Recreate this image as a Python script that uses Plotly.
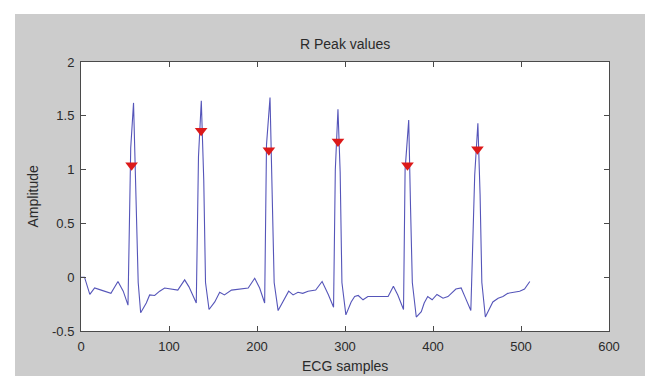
import plotly.graph_objects as go

# ECG trace vertices (sample index, amplitude)
ecg_x = [0, 4, 10, 15.5, 23, 34, 42, 48, 53.4,
         56.5, 59.7, 62.5, 65, 67.8,
         74.2, 78, 83.7, 89.4, 95, 110, 117.8, 122.7, 131,
         133.5, 136.7, 139.5, 141.5, 145.5,
         152, 157.6, 163, 171, 190, 197.4, 203, 208.7,
         210.8, 214.8, 217.2, 219.5, 224,
         229.5, 236, 241, 246.6, 252, 258, 266.7, 274, 281, 287,
         289, 292, 294.5, 296.5, 301,
         307, 311, 315, 320.5, 326, 349, 355, 360, 366.5,
         368.3, 372.4, 374.5, 376.5, 381,
         386.7, 390, 394, 399, 404.5, 411.4, 417, 426, 432, 436.7, 443,
         447.4, 451, 453.5, 455.5, 459.5,
         463.5, 468, 474, 479.5, 485, 498.5, 504, 510]
ecg_y = [0.0, 0.0, -0.16, -0.10, -0.12, -0.15, -0.04, -0.13, -0.26,
         1.20, 1.62, 0.72, -0.05, -0.33,
         -0.24, -0.165, -0.17, -0.13, -0.10, -0.12, -0.025, -0.09, -0.24,
         1.12, 1.64, 0.90, -0.05, -0.30,
         -0.23, -0.14, -0.165, -0.12, -0.10, -0.01, -0.10, -0.24,
         1.23, 1.67, 0.74, -0.05, -0.31,
         -0.23, -0.13, -0.165, -0.14, -0.15, -0.13, -0.12, -0.04, -0.16, -0.28,
         1.00, 1.56, 0.98, -0.05, -0.35,
         -0.23, -0.18, -0.17, -0.21, -0.18, -0.18, -0.085, -0.165, -0.30,
         1.00, 1.46, 0.64, -0.05, -0.37,
         -0.32, -0.24, -0.18, -0.21, -0.16, -0.195, -0.18, -0.11, -0.10, -0.19, -0.31,
         0.95, 1.43, 0.77, -0.05, -0.37,
         -0.30, -0.23, -0.195, -0.18, -0.15, -0.13, -0.11, -0.04]

# R peak markers
peak_x = [57.5, 136.5, 213.5, 292, 371, 450.5]
peak_y = [1.04, 1.36, 1.18, 1.26, 1.04, 1.19]

x_ticks = [0, 100, 200, 300, 400, 500, 600]
y_ticks = [-0.5, 0, 0.5, 1, 1.5, 2]
y_tick_text = ["-0.5", "0", "0.5", "1", "1.5", "2"]

font_family = "Liberation Sans, Arial, sans-serif"
txt = "#2a2a2a"
axis_col = "#4a4a4a"

fig = go.Figure()
fig.add_trace(go.Scatter(x=ecg_x, y=ecg_y, mode="lines",
                         line=dict(color="rgb(85,85,185)", width=1.1),
                         hoverinfo="skip", showlegend=False))
fig.add_trace(go.Scatter(x=peak_x, y=peak_y, mode="markers",
                         marker=dict(symbol="triangle-down", size=11,
                                     color="rgb(220,25,25)",
                                     line=dict(color="rgb(220,25,25)", width=0)),
                         showlegend=False))

axis_common = dict(showline=True, linecolor=axis_col, linewidth=1, mirror="ticks",
                   ticks="inside", ticklen=5, tickcolor=axis_col, showgrid=False,
                   zeroline=False, tickfont=dict(family=font_family, size=13, color=txt))

fig.update_xaxes(range=[0, 600], tickvals=x_ticks, ticklabelstandoff=3, **axis_common)
fig.update_yaxes(range=[-0.5, 2], tickvals=y_ticks, ticktext=y_tick_text,
                 ticklabelstandoff=3, **axis_common)

# white border strips around the gray figure
shapes = []
W, H = 653, 376
l, r, t, b = 73, 52, 54, 53
pw, ph = W - l - r, H - t - b
def px2x(p):
    return (p - l) / pw
def py2y(p):
    return (H - b - p) / ph
for (x0, y0, x1, y1) in [(0, 0, 7, H), (0, 0, W, 6), (0, 370, W, H)]:
    shapes.append(dict(type="rect", xref="paper", yref="paper",
                       x0=px2x(x0), x1=px2x(x1), y0=py2y(y1), y1=py2y(y0),
                       fillcolor="white", line=dict(width=0), layer="above"))

fig.update_layout(
    width=W, height=H,
    margin=dict(l=l, r=r, t=t, b=b),
    paper_bgcolor="rgb(204,204,204)",
    plot_bgcolor="white",
    font=dict(family=font_family, size=13, color=txt),
    shapes=shapes,
    annotations=[
        dict(text="R Peak values", xref="paper", yref="paper", x=0.5, y=py2y(36),
             showarrow=False, xanchor="center", yanchor="middle",
             font=dict(family=font_family, size=14, color=txt)),
        dict(text="ECG samples", xref="paper", yref="paper", x=0.5, y=py2y(358),
             showarrow=False, xanchor="center", yanchor="middle",
             font=dict(family=font_family, size=14, color=txt)),
        dict(text="Amplitude", xref="paper", yref="paper", x=px2x(24), y=0.5,
             showarrow=False, xanchor="center", yanchor="middle", textangle=-90,
             font=dict(family=font_family, size=14, color=txt)),
    ],
)

fig.write_html("out.html")
